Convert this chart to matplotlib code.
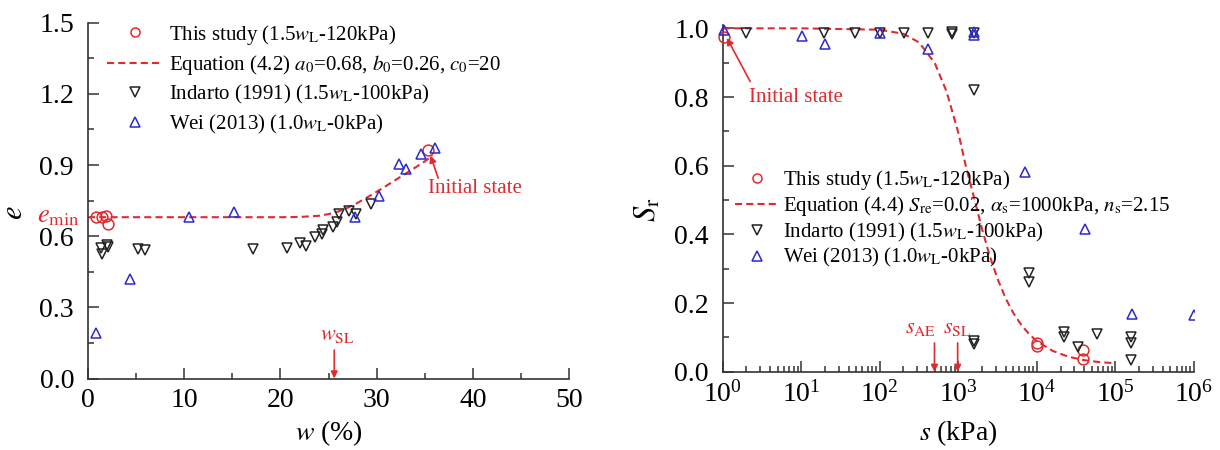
import matplotlib
matplotlib.use('Agg')
import matplotlib.pyplot as plt
from matplotlib.lines import Line2D
from matplotlib.patches import Rectangle
from matplotlib.ticker import MultipleLocator, LogLocator, NullFormatter, FormatStrFormatter

plt.rcParams['font.family'] = ['Liberation Serif', 'DejaVu Serif']
plt.rcParams['mathtext.fontset'] = 'stix'

RED = '#e02a2e'
BLUE = '#2a2ad0'
BLACK = '#222222'

# ---------------- left panel data: void ratio vs water content ----------------
this_w = [0.8, 1.5, 1.9, 2.1, 35.3]
this_e = [0.68, 0.68, 0.685, 0.65, 0.965]

ind_w = [1.4, 2.0, 1.5, 2.1, 5.2, 5.9, 17.2, 20.7, 22.0, 22.7, 23.6, 24.3, 24.4,
         25.5, 25.9, 26.1, 27.1, 27.9, 29.4]
ind_e = [0.55, 0.563, 0.525, 0.556, 0.545, 0.542, 0.545, 0.55, 0.57, 0.56, 0.595,
         0.61, 0.625, 0.64, 0.66, 0.695, 0.705, 0.695, 0.735]

wei_w = [0.83, 4.4, 10.5, 15.2, 27.8, 30.3, 32.3, 33.1, 34.6, 36.1]
wei_e = [0.19, 0.42, 0.68, 0.70, 0.68, 0.77, 0.905, 0.885, 0.945, 0.97]

eq_w = [0, 20, 22, 24, 25, 26, 27, 28, 29, 30, 31, 32, 33, 34, 35, 35.8]
eq_e = [0.68, 0.68, 0.681, 0.686, 0.693, 0.704, 0.72, 0.74, 0.763, 0.787, 0.812,
        0.838, 0.863, 0.889, 0.915, 0.94]

# ---------------- right panel data: degree of saturation vs suction ----------------
this_s = [1.05, 10000, 10000, 38500, 38500]
this_sr = [0.975, 0.085, 0.074, 0.063, 0.037]

ind_s = [2.0, 19.5, 49, 100, 204, 408, 826, 826, 1600, 1600, 1600, 1600, 8000, 8000,
         21900, 21900, 33100, 57900, 159000, 159000, 159000]
ind_sr = [0.985, 0.987, 0.987, 0.987, 0.987, 0.987, 0.99, 0.983, 0.985, 0.82, 0.09,
          0.08, 0.287, 0.26, 0.117, 0.102, 0.073, 0.109, 0.102, 0.083, 0.034]

wei_s = [1.05, 10.1, 20, 100, 408, 1600, 1600, 7130, 40400, 162000, 990000]
wei_sr = [0.995, 0.978, 0.954, 0.987, 0.94, 0.99, 0.98, 0.583, 0.415, 0.167, 0.165]

eq_s = [1, 10, 100, 200, 316, 501, 708, 1000, 1259, 1585, 1995, 2512, 3162, 3981,
        5012, 6310, 7943, 10000, 15850, 25120, 39810, 63100, 100000]
eq_sr = [1.0, 1.0, 0.996, 0.984, 0.959, 0.899, 0.816, 0.696, 0.594, 0.507, 0.417,
         0.337, 0.270, 0.215, 0.171, 0.137, 0.110, 0.089, 0.061, 0.044, 0.034,
         0.028, 0.025]

TICK_FS = 20
LEG_FS = 15

fig = plt.figure(figsize=(12.2, 4.5), dpi=100)
axL = fig.add_axes([88/1220, (450-378.5)/450, 481/1220, 355.8/450])
axR = fig.add_axes([722.7/1220, (450-371.8)/450, 471.3/1220, (371.8-24.9)/450])

ms = 7.8
mew = 1.1
dash = (3.4, 2.0)

def style(ax):
    for sp in ['top', 'right']:
        ax.spines[sp].set_visible(False)
    for sp in ['left', 'bottom']:
        ax.spines[sp].set_linewidth(1.2)
        ax.spines[sp].set_color('#333333')
    ax.tick_params(which='both', direction='in', labelsize=TICK_FS, color='#333333', width=1.1)
    ax.tick_params(which='major', length=8)
    ax.tick_params(which='minor', length=4)
    ax.tick_params(axis='x', which='major', pad=7)
    ax.tick_params(axis='y', which='major', pad=10)

# ---- left ----
axL.plot(eq_w, eq_e, color=RED, lw=1.5, dashes=dash, zorder=2)
axL.plot(this_w, this_e, 'o', ms=ms, mfc='none', mec=RED, mew=mew, clip_on=False, zorder=3)
axL.plot(ind_w, ind_e, 'v', ms=ms, mfc='none', mec=BLACK, mew=mew, clip_on=False, zorder=3)
axL.plot(wei_w, wei_e, '^', ms=ms, mfc='none', mec=BLUE, mew=mew, clip_on=False, zorder=3)
axL.set_xlim(0, 50)
axL.set_ylim(0, 1.5)
axL.xaxis.set_major_locator(MultipleLocator(10))
axL.xaxis.set_minor_locator(MultipleLocator(5))
axL.yaxis.set_major_locator(MultipleLocator(0.3))
axL.yaxis.set_minor_locator(MultipleLocator(0.15))
axL.yaxis.set_major_formatter(FormatStrFormatter('%.1f'))
style(axL)
axL.set_xlabel('$w$ (%)', fontsize=TICK_FS)
axL.xaxis.set_label_coords(0.5, -0.112)
axL.set_ylabel('$e$', fontsize=TICK_FS + 2)
axL.yaxis.set_label_coords(-0.122, 0.465)

handlesL = [
    Line2D([], [], ls='none', marker='o', ms=6.5, mfc='none', mec=RED, mew=mew),
    Line2D([], [], color=RED, lw=1.5, dashes=dash),
    Line2D([], [], ls='none', marker='v', ms=6.5, mfc='none', mec=BLACK, mew=mew),
    Line2D([], [], ls='none', marker='^', ms=6.5, mfc='none', mec=BLUE, mew=mew),
]
labelsL = [
    r'This study (1.5$w_{\rm L}$-120kPa)',
    r'Equation (4.2) $a_0$=0.68, $b_0$=0.26, $c_0$=20',
    r'Indarto (1991) (1.5$w_{\rm L}$-100kPa)',
    r'Wei (2013) (1.0$w_{\rm L}$-0kPa)',
]
axL.legend(handlesL, labelsL, loc='upper left', bbox_to_anchor=(0.04, 1.0),
           frameon=False, fontsize=LEG_FS, borderpad=0, borderaxespad=0,
           handlelength=2.7, handletextpad=0.25, labelspacing=0.3)

axL.text(35.3, 0.80, 'Initial state', color=RED, fontsize=LEG_FS, ha='left', va='center')
axL.annotate('', xy=(35.6, 0.94), xytext=(36.4, 0.845),
             arrowprops=dict(arrowstyle='-|>', color=RED, lw=1.2, mutation_scale=10,
                             shrinkA=0, shrinkB=0))
axL.annotate('', xy=(25.6, 0.0), xytext=(25.6, 0.12),
             arrowprops=dict(arrowstyle='-|>', color=RED, lw=1.2, mutation_scale=10,
                             shrinkA=0, shrinkB=0))
axL.text(25.9, 0.18, r'$w_{\rm SL}$', color=RED, fontsize=LEG_FS + 1, ha='center', va='center')
axL.text(-0.9, 0.68, r'$e_{\rm min}$', color=RED, fontsize=19, ha='right', va='center')

# ---- right ----
axR.plot(eq_s, eq_sr, color=RED, lw=1.5, dashes=dash, zorder=2)
axR.plot(this_s, this_sr, 'o', ms=ms, mfc='none', mec=RED, mew=mew, clip_on=False, zorder=3)
axR.plot(ind_s, ind_sr, 'v', ms=ms, mfc='none', mec=BLACK, mew=mew, clip_on=False, zorder=3)
weiR, = axR.plot(wei_s, wei_sr, '^', ms=ms, mfc='none', mec=BLUE, mew=mew, zorder=3)
clip = Rectangle((-0.1, -0.1), 1.1, 1.3, transform=axR.transAxes, facecolor='none', edgecolor='none')
axR.add_patch(clip)
weiR.set_clip_path(clip)
axR.set_xscale('log')
axR.set_xlim(1, 1e6)
axR.set_ylim(0, 1.01)
axR.xaxis.set_major_locator(LogLocator(base=10, numticks=10))
axR.xaxis.set_minor_locator(LogLocator(base=10, subs=range(2, 10), numticks=20))
axR.xaxis.set_minor_formatter(NullFormatter())
axR.yaxis.set_major_locator(MultipleLocator(0.2))
axR.yaxis.set_minor_locator(MultipleLocator(0.1))
axR.yaxis.set_major_formatter(FormatStrFormatter('%.1f'))
style(axR)
axR.set_xlabel('$s$ (kPa)', fontsize=TICK_FS)
axR.xaxis.set_label_coords(0.5, -0.133)
axR.set_ylabel(r'$S_{\rm r}$', fontsize=TICK_FS + 2)
axR.yaxis.set_label_coords(-0.127, 0.466)

handlesR = [
    Line2D([], [], ls='none', marker='o', ms=6.5, mfc='none', mec=RED, mew=mew),
    Line2D([], [], color=RED, lw=1.5, dashes=dash),
    Line2D([], [], ls='none', marker='v', ms=6.5, mfc='none', mec=BLACK, mew=mew),
    Line2D([], [], ls='none', marker='^', ms=6.5, mfc='none', mec=BLUE, mew=mew),
]
labelsR = [
    r'This study (1.5$w_{\rm L}$-120kPa)',
    r'Equation (4.4) $S_{\rm re}$=0.02, $\alpha_{\rm s}$=1000kPa, $n_{\rm s}$=2.15',
    r'Indarto (1991) (1.5$w_{\rm L}$-100kPa)',
    r'Wei (2013) (1.0$w_{\rm L}$-0kPa)',
]
axR.legend(handlesR, labelsR, loc='upper left', bbox_to_anchor=(0.026, 0.588),
           frameon=False, fontsize=LEG_FS, borderpad=0, borderaxespad=0,
           handlelength=2.1, handletextpad=0.2, labelspacing=0.12)

axR.text(2.16, 0.80, 'Initial state', color=RED, fontsize=LEG_FS, ha='left', va='center')
axR.annotate('', xy=(1.13, 0.972), xytext=(2.24, 0.845),
             arrowprops=dict(arrowstyle='-|>', color=RED, lw=1.2, mutation_scale=10,
                             shrinkA=0, shrinkB=0))
for sx in [497, 980]:
    axR.annotate('', xy=(sx, 0.0), xytext=(sx, 0.084),
                 arrowprops=dict(arrowstyle='-|>', color=RED, lw=1.2, mutation_scale=10,
                                 shrinkA=0, shrinkB=0))
axR.text(327, 0.125, r'$s_{\rm AE}$', color=RED, fontsize=LEG_FS + 1, ha='center', va='center')
axR.text(967, 0.125, r'$s_{\rm SL}$', color=RED, fontsize=LEG_FS + 1, ha='center', va='center')

fig.savefig('out.png', dpi=100)
